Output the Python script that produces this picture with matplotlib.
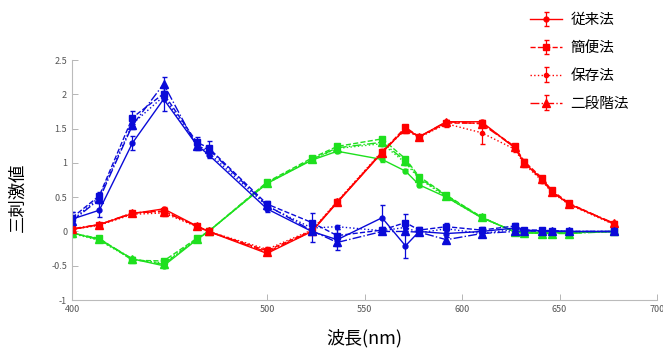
import matplotlib.pyplot as plt
import numpy as np

plt.rcParams['font.family'] = ['Noto Sans CJK JP', 'DejaVu Sans']

# wavelengths (nm)
wl = [400, 414, 431, 447, 464, 470, 500, 523, 536, 559, 571, 578, 592, 610, 627, 632, 641, 646, 655, 678]

# red (x-bar) for each method
x_conv = [0.03, 0.10, 0.26, 0.33, 0.08, 0.00, -0.32, 0.00, 0.42, 1.15, 1.50, 1.38, 1.60, 1.60, 1.22, 1.00, 0.76, 0.58, 0.40, 0.11]
x_simple = [0.03, 0.10, 0.27, 0.30, 0.08, 0.00, -0.28, 0.01, 0.43, 1.16, 1.52, 1.38, 1.58, 1.58, 1.24, 1.02, 0.78, 0.60, 0.41, 0.11]
x_keep = [0.03, 0.09, 0.25, 0.27, 0.07, 0.00, -0.26, 0.02, 0.44, 1.17, 1.48, 1.37, 1.57, 1.44, 1.20, 0.98, 0.74, 0.57, 0.39, 0.10]
x_two = [0.04, 0.10, 0.27, 0.29, 0.08, 0.00, -0.30, 0.00, 0.43, 1.15, 1.50, 1.38, 1.60, 1.57, 1.23, 1.00, 0.76, 0.58, 0.40, 0.12]

# green (y-bar)
y_conv = [-0.02, -0.12, -0.40, -0.50, -0.12, 0.00, 0.70, 1.04, 1.17, 1.05, 0.88, 0.68, 0.50, 0.20, 0.00, -0.01, -0.01, -0.01, -0.01, 0.00]
y_simple = [-0.03, -0.10, -0.42, -0.43, -0.10, 0.00, 0.72, 1.07, 1.24, 1.35, 1.06, 0.80, 0.53, 0.21, -0.01, -0.02, -0.02, -0.02, -0.02, 0.00]
y_keep = [-0.03, -0.13, -0.41, -0.46, -0.11, 0.00, 0.70, 1.05, 1.21, 1.28, 1.00, 0.77, 0.50, 0.20, 0.00, -0.02, -0.02, -0.02, -0.02, 0.00]
y_two = [-0.02, -0.11, -0.40, -0.48, -0.11, 0.00, 0.71, 1.05, 1.22, 1.30, 1.03, 0.78, 0.52, 0.21, -0.01, -0.02, -0.03, -0.03, -0.03, 0.00]

# blue (z-bar)
z_conv = [0.18, 0.31, 1.29, 1.93, 1.26, 1.12, 0.33, 0.00, -0.12, 0.20, -0.21, 0.00, -0.03, 0.00, 0.05, 0.02, 0.01, 0.01, 0.00, 0.00]
z_simple = [0.20, 0.52, 1.66, 2.01, 1.30, 1.22, 0.40, 0.13, -0.06, 0.02, 0.13, 0.02, 0.07, 0.02, 0.08, 0.02, 0.02, 0.01, 0.00, 0.00]
z_keep = [0.16, 0.50, 1.57, 1.97, 1.27, 1.15, 0.37, 0.05, 0.07, 0.01, 0.06, -0.02, 0.04, -0.03, 0.03, 0.01, 0.01, 0.01, 0.00, 0.00]
z_two = [0.15, 0.47, 1.55, 2.15, 1.24, 1.20, 0.38, 0.01, -0.16, 0.00, 0.00, -0.01, -0.12, -0.03, 0.00, 0.01, 0.00, 0.00, 0.00, 0.00]

# error bars
err_small = [0.03] * 20
err_x_keep = [0.03, 0.03, 0.03, 0.04, 0.03, 0.02, 0.03, 0.03, 0.03, 0.03, 0.04, 0.03, 0.04, 0.17, 0.04, 0.04, 0.03, 0.03, 0.03, 0.02]
err_z_conv = [0.10, 0.10, 0.10, 0.18, 0.06, 0.05, 0.05, 0.15, 0.15, 0.18, 0.18, 0.04, 0.05, 0.05, 0.04, 0.03, 0.03, 0.03, 0.02, 0.02]
err_z_simple = [0.08, 0.06, 0.10, 0.08, 0.08, 0.10, 0.05, 0.14, 0.12, 0.05, 0.12, 0.04, 0.05, 0.04, 0.04, 0.03, 0.03, 0.03, 0.02, 0.02]
err_z_two = [0.06, 0.05, 0.06, 0.10, 0.05, 0.05, 0.04, 0.05, 0.05, 0.04, 0.04, 0.03, 0.04, 0.03, 0.03, 0.03, 0.03, 0.03, 0.02, 0.02]

labels = ['従来法', '簡便法', '保存法', '二段階法']

red = '#ff0000'
green = '#1ee01e'
blue = '#0a0ad8'

styles = [('-', 'o', 3.5), ('--', 's', 4.5), (':', 'o', 3), ('-.', '^', 6)]

fig = plt.figure(figsize=(6.63, 3.53), dpi=100)
ax = fig.add_axes([0.1086, 0.150, 0.8824, 0.680])

groups = [
    (green, [y_conv, y_simple, y_keep, y_two], [err_small, err_small, err_small, err_small], False),
    (red, [x_conv, x_simple, x_keep, x_two], [err_small, err_small, err_x_keep, err_small], True),
    (blue, [z_conv, z_simple, z_keep, z_two], [err_z_conv, err_z_simple, err_small, err_z_two], False),
]

for col, series, errs, show in groups:
    for (ls, mk, ms), vals, e, lab in zip(styles, series, errs, labels):
        ax.errorbar(wl, vals, yerr=e, color=col, linestyle=ls, marker=mk, markersize=ms,
                    linewidth=1.0, elinewidth=0.9, capsize=1.8, label=lab if show else None)

ax.set_xlim(400, 700)
ax.set_ylim(-1, 2.5)
ax.set_xticks([400, 500, 550, 600, 650, 700])
ax.set_yticks([-1, -0.5, 0, 0.5, 1, 1.5, 2, 2.5])
ax.set_yticklabels(['-1', '-0.5', '0', '0.5', '1', '1.5', '2', '2.5'])
ax.tick_params(direction='in', length=4, width=0.6, colors='#aaaaaa', labelcolor='#555555', labelsize=6.5)
for s in ['top', 'right']:
    ax.spines[s].set_visible(False)
for s in ['left', 'bottom']:
    ax.spines[s].set_color('#bbbbbb')
    ax.spines[s].set_linewidth(0.8)

fig.text(0.549, 0.043, '波長(nm)', fontsize=13, ha='center', va='center')
fig.text(0.026, 0.44, '三刺激値', fontsize=12.5, rotation=90, ha='center', va='center')

fig.legend(loc='upper left', bbox_to_anchor=(0.779, 1.0), frameon=False, fontsize=10.5,
           handlelength=2.2, labelspacing=0.95, handletextpad=0.6)

fig.savefig('out.png', dpi=100)
